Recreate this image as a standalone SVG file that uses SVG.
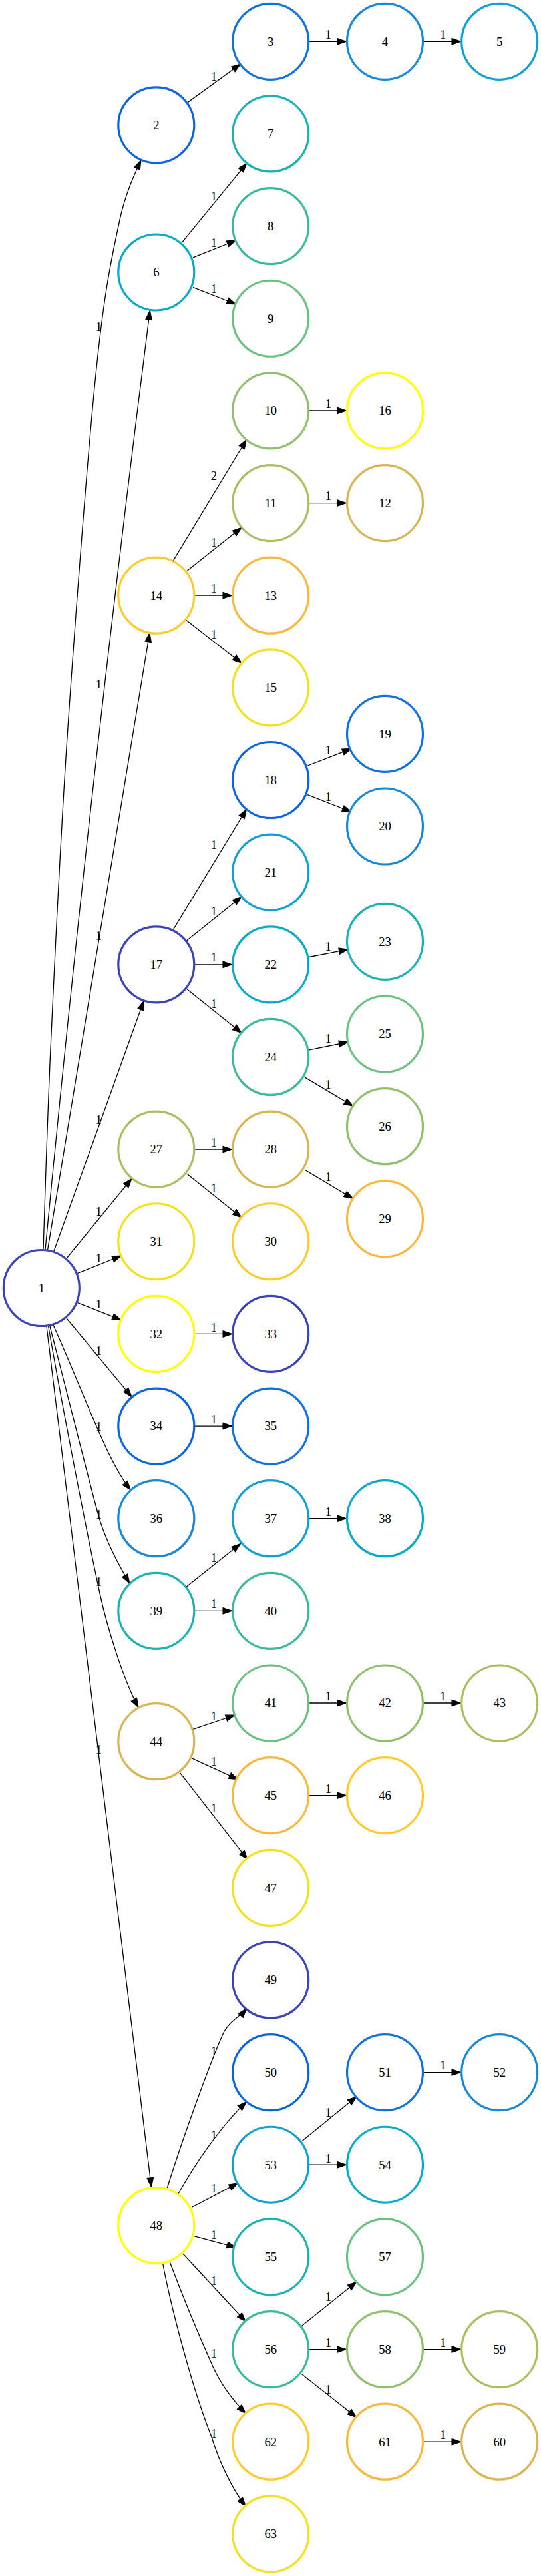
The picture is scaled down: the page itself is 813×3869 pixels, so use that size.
<svg xmlns="http://www.w3.org/2000/svg" width="813" height="3869" viewBox="0 0 813 3869">
<style>
text{font-family:"Liberation Serif","Times New Roman",serif;font-size:18.6px;text-anchor:middle;fill:#000}
.n circle{fill:#fff;stroke-width:3.2}
.e path{fill:none;stroke:#000;stroke-width:1.3;marker-end:url(#ah)}
.c1{stroke:#3a44b8}.c2{stroke:#0b65e0}.c3{stroke:#1272dc}.c4{stroke:#1b88d6}
.c5{stroke:#11a0d0}.c6{stroke:#08aac8}.c7{stroke:#1eb1b3}.c8{stroke:#3cb89c}
.c9{stroke:#6cc182}.c10{stroke:#90bf6e}.c11{stroke:#b1bc62}.c12{stroke:#d8b452}
.c13{stroke:#f8b83e}.c14{stroke:#fdcb2c}.c15{stroke:#f2e11e}.c16{stroke:#ffff00}
</style>
<defs>
<marker id="ah" viewBox="-2 -7 18 14" refX="14" refY="0" markerWidth="18" markerHeight="14" markerUnits="userSpaceOnUse" orient="auto">
<path d="M0,-4.6L13.3,0L0,4.6Z" fill="#000" stroke="#000" stroke-width="1.3"/>
</marker>
</defs>
<rect width="813" height="3869" fill="#fff"/>
<g id="connectors" class="e">
<g id="e1-2"><path d="M65,1877 C66.95,1822.5 70.6,1689.2 76.7,1560 C82.8,1430.8 90.25,1266.7 101.5,1100 C112.75,933.3 131.2,688 144.2,560 C157.2,432 168.5,384.8 179.6,332 C188,292 202,262 212,240.5"/><text x="148.5" y="497.3">1</text></g>
<g id="e1-6"><path d="M68,1877.3 C113,1405 165.7,936 225.4,466"/><text x="148.5" y="1034.3">1</text></g>
<g id="e1-14"><path d="M71.5,1877.7 L225,950"/><text x="148.5" y="1411.7">1</text></g>
<g id="e1-17"><path d="M80.5,1880.5 L216.1,1503.2"/><text x="148.5" y="1688">1</text></g>
<g id="e1-27"><path d="M100,1890 L198.3,1770"/><text x="148.5" y="1826.3">1</text></g>
<g id="e1-31"><path d="M116.7,1912.3 L182.7,1886"/><text x="148.5" y="1896.3">1</text></g>
<g id="e1-32"><path d="M116.7,1956.7 L182.7,1982.7"/><text x="148.5" y="1964.6">1</text></g>
<g id="e1-34"><path d="M100,1980 L198.3,2098.3"/><text x="148.5" y="2034.6">1</text></g>
<g id="e1-36"><path d="M80,1990 C129.5,2100 160.3,2193.3 196.7,2238.3"/><text x="148.5" y="2149">1</text></g>
<g id="e1-39"><path d="M75,1992 C110,2128 140,2250 150,2283 C160,2315 178,2350 195,2378.3"/><text x="148.5" y="2281.3">1</text></g>
<g id="e1-44"><path d="M72.7,1992 C95,2120 130,2300 150,2393 C160,2440 186,2525 208.3,2565"/><text x="148.5" y="2382.3">1</text></g>
<g id="e1-48"><path d="M70,1992 L227.5,3285"/><text x="148.5" y="2634.3">1</text></g>
<g id="e2-3"><path d="M282.1,153.6 L361.8,95.7"/><text x="321.5" y="120.6">1</text></g>
<g id="e3-4"><path d="M464.3,62.3 L520.9,62.3"/><text x="493.5" y="58.3">1</text></g>
<g id="e4-5"><path d="M636.1,62.3 L693.1,62.3"/><text x="665.5" y="58.3">1</text></g>
<g id="e6-7"><path d="M273.3,364.3 L371,245"/><text x="321.5" y="300.9">1</text></g>
<g id="e6-8"><path d="M290,386.8 L355,361"/><text x="321.5" y="370.6">1</text></g>
<g id="e6-9"><path d="M290,431.4 L355,457"/><text x="321.5" y="439.5">1</text></g>
<g id="e14-10"><path d="M260.3,842.1 L370.6,660"/><text x="321.5" y="720.6">2</text></g>
<g id="e10-16"><path d="M464.3,616.9 L520.9,616.9"/><text x="493.5" y="612.8">1</text></g>
<g id="e14-11"><path d="M280,858.2 L363.4,792.1"/><text x="321.5" y="820.6">1</text></g>
<g id="e11-12"><path d="M464.3,755.55 L520.9,755.55"/><text x="493.5" y="751.3">1</text></g>
<g id="e14-13"><path d="M292.4,894.2 L349.1,894.2"/><text x="321.5" y="890.3">1</text></g>
<g id="e14-15"><path d="M280,931.4 L363.4,996.4"/><text x="321.5" y="959.3">1</text></g>
<g id="e17-18"><path d="M260.3,1396.4 L370.6,1215"/><text x="321.5" y="1275.2">1</text></g>
<g id="e18-19"><path d="M462.3,1150 L528.4,1124.3"/><text x="493.5" y="1133.1">1</text></g>
<g id="e18-20"><path d="M462.3,1193.6 L528.4,1219.6"/><text x="493.5" y="1202.7">1</text></g>
<g id="e17-21"><path d="M280,1413.2 L363.4,1346.4"/><text x="321.5" y="1374.9">1</text></g>
<g id="e17-22"><path d="M292.4,1448.8 L349.1,1448.8"/><text x="321.5" y="1443.8">1</text></g>
<g id="e22-23"><path d="M464.9,1437.5 L523.5,1426"/><text x="493.5" y="1427.7">1</text></g>
<g id="e17-24"><path d="M281.1,1485.7 L363.4,1551.8"/><text x="321.5" y="1514.2">1</text></g>
<g id="e24-25"><path d="M464.9,1576.8 L523.5,1565"/><text x="493.5" y="1566.3">1</text></g>
<g id="e24-26"><path d="M458.1,1617.9 L531,1661.4"/><text x="493.5" y="1634.9">1</text></g>
<g id="e27-28"><path d="M292.4,1726.1 L349.1,1726.1"/><text x="321.5" y="1722.3">1</text></g>
<g id="e28-29"><path d="M458.1,1757.1 L531,1800.7"/><text x="493.5" y="1774.2">1</text></g>
<g id="e27-30"><path d="M281.1,1763.2 L363.4,1829.3"/><text x="321.5" y="1790.9">1</text></g>
<g id="e32-33"><path d="M292.4,2003.4 L349.1,2003.4"/><text x="321.5" y="1999.7">1</text></g>
<g id="e34-35"><path d="M292.4,2142.05 L349.1,2142.05"/><text x="321.5" y="2138.3">1</text></g>
<g id="e37-38"><path d="M464.3,2280.7 L520.9,2280.7"/><text x="493.5" y="2276.7">1</text></g>
<g id="e39-37"><path d="M280,2383.3 L361.7,2318.3"/><text x="321.5" y="2346.3">1</text></g>
<g id="e39-40"><path d="M292.4,2419.35 L349.1,2419.35"/><text x="321.5" y="2415.3">1</text></g>
<g id="e44-41"><path d="M289.3,2597.7 L353.3,2576"/><text x="321.5" y="2584.3">1</text></g>
<g id="e41-42"><path d="M464.3,2558 L520.9,2558"/><text x="493.5" y="2554.2">1</text></g>
<g id="e42-43"><path d="M636.1,2558 L693.1,2558"/><text x="665.5" y="2554.2">1</text></g>
<g id="e44-45"><path d="M287.9,2640.7 L358.1,2672.9"/><text x="321.5" y="2652.3">1</text></g>
<g id="e45-46"><path d="M464.3,2696.65 L520.9,2696.65"/><text x="493.5" y="2692.7">1</text></g>
<g id="e44-47"><path d="M270.7,2662.9 L372.2,2793.2"/><text x="321.5" y="2722">1</text></g>
<g id="e48-49"><path d="M251,3287 C275,3210 315,3100 335,3055 C343,3037 360,3029.5 370.6,3016.4"/><text x="321.5" y="3087">1</text></g>
<g id="e48-50"><path d="M268,3295 C290,3255 330,3195 370.6,3156.4"/><text x="321.5" y="3212.7">1</text></g>
<g id="e53-51"><path d="M453.9,3215.7 L536.2,3148.6"/><text x="493.5" y="3179.2">1</text></g>
<g id="e51-52"><path d="M636.1,3112.6 L693.1,3112.6"/><text x="665.5" y="3108.4">1</text></g>
<g id="e53-54"><path d="M464.3,3251.25 L520.9,3251.25"/><text x="493.5" y="3247.7">1</text></g>
<g id="e48-53"><path d="M287.9,3315.5 L358.1,3278.6"/><text x="321.5" y="3292.7">1</text></g>
<g id="e48-55"><path d="M290.5,3358.3 L355,3375.7"/><text x="321.5" y="3362.6">1</text></g>
<g id="e48-56"><path d="M274.9,3385 L369.6,3487.2"/><text x="321.5" y="3432.1">1</text></g>
<g id="e56-57"><path d="M453.9,3493 L536.2,3427"/><text x="493.5" y="3455.8">1</text></g>
<g id="e56-58"><path d="M464.3,3528.55 L520.9,3528.55"/><text x="493.5" y="3524.6">1</text></g>
<g id="e58-59"><path d="M636.1,3528.55 L693.1,3528.55"/><text x="665.5" y="3524.6">1</text></g>
<g id="e56-61"><path d="M453.9,3566 L536.2,3630.9"/><text x="493.5" y="3594.5">1</text></g>
<g id="e61-60"><path d="M636.1,3667.2 L693.1,3667.2"/><text x="665.5" y="3663.2">1</text></g>
<g id="e48-62"><path d="M255,3397 C275,3450 300,3510 318,3550 C330,3578 350,3605 369.6,3625"/><text x="321.5" y="3541.3">1</text></g>
<g id="e48-63"><path d="M244.7,3400 C258,3470 290,3590 318,3660 C330,3700 350,3740 369.6,3765"/><text x="321.5" y="3660.5">1</text></g>
</g>
<g class="n">
<g id="node-1"><circle class="c1" cx="62.3" cy="1934.5" r="57"/><text x="62.3" y="1940.8">1</text></g>
<g id="node-2"><circle class="c2" cx="234.8" cy="187.9" r="57"/><text x="234.8" y="194.2">2</text></g>
<g id="node-3"><circle class="c3" cx="406.7" cy="62.3" r="57"/><text x="406.7" y="68.6">3</text></g>
<g id="node-4"><circle class="c4" cx="578.5" cy="62.3" r="57"/><text x="578.5" y="68.6">4</text></g>
<g id="node-5"><circle class="c5" cx="750.7" cy="62.3" r="57"/><text x="750.7" y="68.6">5</text></g>
<g id="node-6"><circle class="c6" cx="234.8" cy="409" r="57"/><text x="234.8" y="415.3">6</text></g>
<g id="node-7"><circle class="c7" cx="406.7" cy="200.95" r="57"/><text x="406.7" y="207.3">7</text></g>
<g id="node-8"><circle class="c8" cx="406.7" cy="339.6" r="57"/><text x="406.7" y="345.9">8</text></g>
<g id="node-9"><circle class="c9" cx="406.7" cy="478.25" r="57"/><text x="406.7" y="484.6">9</text></g>
<g id="node-10"><circle class="c10" cx="406.7" cy="616.9" r="57"/><text x="406.7" y="623.2">10</text></g>
<g id="node-11"><circle class="c11" cx="406.7" cy="755.55" r="57"/><text x="406.7" y="761.9">11</text></g>
<g id="node-12"><circle class="c12" cx="578.5" cy="755.55" r="57"/><text x="578.5" y="761.9">12</text></g>
<g id="node-13"><circle class="c13" cx="406.7" cy="894.2" r="57"/><text x="406.7" y="900.5">13</text></g>
<g id="node-14"><circle class="c14" cx="234.8" cy="894.2" r="57"/><text x="234.8" y="900.5">14</text></g>
<g id="node-15"><circle class="c15" cx="406.7" cy="1032.85" r="57"/><text x="406.7" y="1039.2">15</text></g>
<g id="node-16"><circle class="c16" cx="578.5" cy="616.9" r="57"/><text x="578.5" y="623.2">16</text></g>
<g id="node-17"><circle class="c1" cx="234.8" cy="1448.8" r="57"/><text x="234.8" y="1455.1">17</text></g>
<g id="node-18"><circle class="c2" cx="406.7" cy="1171.5" r="57"/><text x="406.7" y="1177.8">18</text></g>
<g id="node-19"><circle class="c3" cx="578.5" cy="1102.4" r="57"/><text x="578.5" y="1108.7">19</text></g>
<g id="node-20"><circle class="c4" cx="578.5" cy="1241" r="57"/><text x="578.5" y="1247.3">20</text></g>
<g id="node-21"><circle class="c5" cx="406.7" cy="1310.15" r="57"/><text x="406.7" y="1316.5">21</text></g>
<g id="node-22"><circle class="c6" cx="406.7" cy="1448.8" r="57"/><text x="406.7" y="1455.1">22</text></g>
<g id="node-23"><circle class="c7" cx="578.5" cy="1414.3" r="57"/><text x="578.5" y="1420.6">23</text></g>
<g id="node-24"><circle class="c8" cx="406.7" cy="1587.45" r="57"/><text x="406.7" y="1593.8">24</text></g>
<g id="node-25"><circle class="c9" cx="578.5" cy="1553" r="57"/><text x="578.5" y="1559.3">25</text></g>
<g id="node-26"><circle class="c10" cx="578.5" cy="1691.7" r="57"/><text x="578.5" y="1698">26</text></g>
<g id="node-27"><circle class="c11" cx="234.8" cy="1726.1" r="57"/><text x="234.8" y="1732.4">27</text></g>
<g id="node-28"><circle class="c12" cx="406.7" cy="1726.1" r="57"/><text x="406.7" y="1732.4">28</text></g>
<g id="node-29"><circle class="c13" cx="578.5" cy="1830.9" r="57"/><text x="578.5" y="1837.2">29</text></g>
<g id="node-30"><circle class="c14" cx="406.7" cy="1864.75" r="57"/><text x="406.7" y="1871.1">30</text></g>
<g id="node-31"><circle class="c15" cx="234.8" cy="1864.75" r="57"/><text x="234.8" y="1871.1">31</text></g>
<g id="node-32"><circle class="c16" cx="234.8" cy="2003.4" r="57"/><text x="234.8" y="2009.7">32</text></g>
<g id="node-33"><circle class="c1" cx="406.7" cy="2003.4" r="57"/><text x="406.7" y="2009.7">33</text></g>
<g id="node-34"><circle class="c2" cx="234.8" cy="2142.05" r="57"/><text x="234.8" y="2148.4">34</text></g>
<g id="node-35"><circle class="c3" cx="406.7" cy="2142.05" r="57"/><text x="406.7" y="2148.4">35</text></g>
<g id="node-36"><circle class="c4" cx="234.8" cy="2280.7" r="57"/><text x="234.8" y="2287">36</text></g>
<g id="node-37"><circle class="c5" cx="406.7" cy="2280.7" r="57"/><text x="406.7" y="2287">37</text></g>
<g id="node-38"><circle class="c6" cx="578.5" cy="2280.7" r="57"/><text x="578.5" y="2287">38</text></g>
<g id="node-39"><circle class="c7" cx="234.8" cy="2419.35" r="57"/><text x="234.8" y="2425.7">39</text></g>
<g id="node-40"><circle class="c8" cx="406.7" cy="2419.35" r="57"/><text x="406.7" y="2425.7">40</text></g>
<g id="node-41"><circle class="c9" cx="406.7" cy="2558" r="57"/><text x="406.7" y="2564.3">41</text></g>
<g id="node-42"><circle class="c10" cx="578.5" cy="2558" r="57"/><text x="578.5" y="2564.3">42</text></g>
<g id="node-43"><circle class="c11" cx="750.7" cy="2558" r="57"/><text x="750.7" y="2564.3">43</text></g>
<g id="node-44"><circle class="c12" cx="234.8" cy="2615.7" r="57"/><text x="234.8" y="2622">44</text></g>
<g id="node-45"><circle class="c13" cx="406.7" cy="2696.65" r="57"/><text x="406.7" y="2703">45</text></g>
<g id="node-46"><circle class="c14" cx="578.5" cy="2696.65" r="57"/><text x="578.5" y="2703">46</text></g>
<g id="node-47"><circle class="c15" cx="406.7" cy="2835.3" r="57"/><text x="406.7" y="2841.6">47</text></g>
<g id="node-48"><circle class="c16" cx="234.8" cy="3342.3" r="57"/><text x="234.8" y="3348.6">48</text></g>
<g id="node-49"><circle class="c1" cx="406.7" cy="2973.95" r="57"/><text x="406.7" y="2980.3">49</text></g>
<g id="node-50"><circle class="c2" cx="406.7" cy="3112.6" r="57"/><text x="406.7" y="3118.9">50</text></g>
<g id="node-51"><circle class="c3" cx="578.5" cy="3112.6" r="57"/><text x="578.5" y="3118.9">51</text></g>
<g id="node-52"><circle class="c4" cx="750.7" cy="3112.6" r="57"/><text x="750.7" y="3118.9">52</text></g>
<g id="node-53"><circle class="c5" cx="406.7" cy="3251.25" r="57"/><text x="406.7" y="3257.6">53</text></g>
<g id="node-54"><circle class="c6" cx="578.5" cy="3251.25" r="57"/><text x="578.5" y="3257.6">54</text></g>
<g id="node-55"><circle class="c7" cx="406.7" cy="3389.9" r="57"/><text x="406.7" y="3396.2">55</text></g>
<g id="node-56"><circle class="c8" cx="406.7" cy="3528.55" r="57"/><text x="406.7" y="3534.9">56</text></g>
<g id="node-57"><circle class="c9" cx="578.5" cy="3389.9" r="57"/><text x="578.5" y="3396.2">57</text></g>
<g id="node-58"><circle class="c10" cx="578.5" cy="3528.55" r="57"/><text x="578.5" y="3534.9">58</text></g>
<g id="node-59"><circle class="c11" cx="750.7" cy="3528.55" r="57"/><text x="750.7" y="3534.9">59</text></g>
<g id="node-60"><circle class="c12" cx="750.7" cy="3667.2" r="57"/><text x="750.7" y="3673.5">60</text></g>
<g id="node-61"><circle class="c13" cx="578.5" cy="3667.2" r="57"/><text x="578.5" y="3673.5">61</text></g>
<g id="node-62"><circle class="c14" cx="406.7" cy="3667.2" r="57"/><text x="406.7" y="3673.5">62</text></g>
<g id="node-63"><circle class="c15" cx="406.7" cy="3805.85" r="57"/><text x="406.7" y="3812.2">63</text></g>
</g>
</svg>
